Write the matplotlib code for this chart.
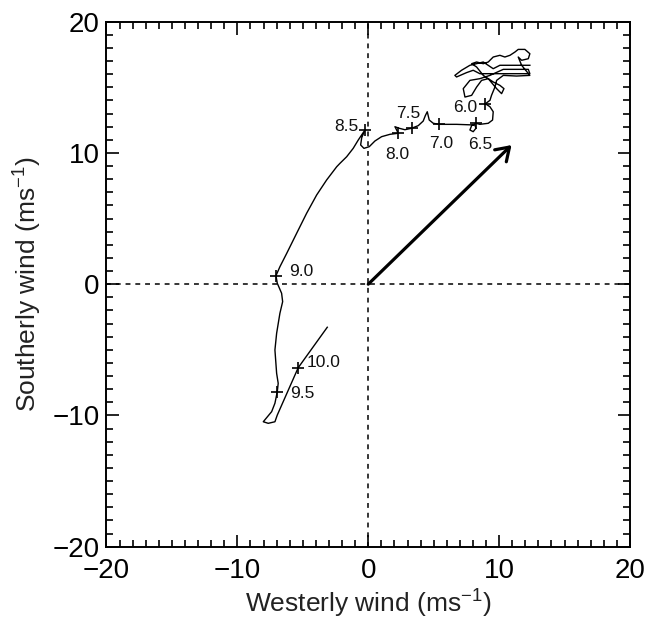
import matplotlib
matplotlib.use("Agg")
import matplotlib.pyplot as plt
from matplotlib.ticker import MultipleLocator

plt.rcParams['font.family'] = ['Liberation Sans', 'DejaVu Sans']
plt.rcParams['mathtext.fontset'] = 'custom'
plt.rcParams['mathtext.rm'] = 'Liberation Sans'
plt.rcParams['mathtext.it'] = 'Liberation Sans'

# Hodograph of wind (westerly u, southerly v), m/s
u_wind = [12.35, 10.06, 9.55, 8.79, 7.77, 7.13, 6.62, 6.75, 7.51, 8.02, 8.53, 9.04,
          12.35, 12.23, 10.32, 9.30, 8.53, 7.77, 7.26, 7.39, 7.90, 8.28, 8.66, 9.17,
          9.81, 10.19, 10.37, 10.06, 9.55, 8.79, 8.28, 7.90, 8.28, 8.79, 9.17, 9.55,
          10.06, 10.44, 10.83, 11.21, 11.46, 11.97, 12.35, 12.23, 11.72, 11.46, 11.72,
          12.35, 11.33, 10.32, 9.81, 9.68, 9.42, 9.30, 8.95,
          9.30, 9.55, 9.50, 9.17, 8.53, 8.23, 7.90, 7.77, 8.02, 8.23, 8.15,
          6.75, 5.42, 4.97, 4.66, 4.51, 4.36, 4.20, 3.82, 3.31, 2.80, 2.37, 2.04, 2.17,
          2.29, 1.66, 1.02, 0.51, 0.08, -0.33, -0.58, -0.50, -0.25,
          -0.76, -1.15, -1.65, -2.16, -2.41, -3.18, -3.94, -4.71, -5.47, -6.23, -6.75,
          -7.05, -6.95, -6.62, -6.54, -6.75, -7.00, -7.13, -7.00, -6.88, -6.95, -7.13,
          -7.38, -8.02, -7.64, -7.13, -6.95, -5.35, -3.13]
v_wind = [16.68, 16.68, 16.42, 16.93, 16.68, 16.30, 15.91, 15.79, 16.12, 16.30, 16.04, 16.04,
          16.04, 16.37, 16.37, 15.91, 15.66, 15.53, 14.90, 14.26, 14.39, 15.02, 15.53, 15.66,
          14.90, 14.52, 14.90, 15.15, 15.41, 15.91, 16.55, 16.80, 16.93, 16.80, 16.93, 17.31,
          17.44, 17.31, 17.44, 17.69, 17.89, 17.89, 17.56, 17.18, 17.06, 17.31, 16.68,
          15.91, 15.86, 15.91, 15.53, 15.02, 14.39, 14.01, 13.75,
          13.52, 13.14, 12.51, 12.26, 12.18, 12.26, 12.08, 11.75, 11.62, 11.88, 12.13,
          12.18, 12.18, 12.26, 12.51, 13.14, 12.84, 12.43, 12.08, 11.88, 11.77, 11.88, 12.00, 11.75,
          11.50, 11.42, 11.24, 10.91, 10.48, 10.35, 10.61, 11.16, 11.75,
          10.99, 10.35, 9.71, 9.21, 8.95, 7.94, 6.80, 5.40, 3.88, 2.35, 1.33,
          0.65, 0.07, -0.69, -1.33, -2.22, -3.74, -5.01, -6.79, -7.55, -8.19, -9.07,
          -9.71, -10.48, -10.60, -10.48, -9.97, -6.36, -3.28]

# Time marks (hours) along the hodograph
mark_labels = ["6.0", "6.5", "7.0", "7.5", "8.0", "8.5", "9.0", "9.5", "10.0"]
mark_u = [8.95, 8.23, 5.42, 3.31, 2.29, -0.25, -7.05, -6.95, -5.35]
mark_v = [13.75, 12.26, 12.18, 11.88, 11.50, 11.75, 0.65, -8.19, -6.36]
# label offsets (points) from each mark
label_dx = [-14.5, 3.0, 1.7, -2.5, -0.7, -13.7, 18.5, 18.3, 18.5]
label_dy = [-2.5, -15.6, -13.7, 10.8, -15.1, 2.4, 2.9, -1.2, 3.6]

# Mean wind vector
mean_u, mean_v = 10.95, 10.6

fig = plt.figure(figsize=(6.47, 6.31), dpi=100)
ax = fig.add_axes([0.1646, 0.1336, 0.8091, 0.8320])

ax.axhline(0, color='black', lw=1.1, ls=(0, (3.2, 3.2)), zorder=1)
ax.axvline(0, color='black', lw=1.1, ls=(0, (3.2, 3.2)), zorder=1)

ax.plot(u_wind, v_wind, color='black', lw=1.0, zorder=2)
ax.plot(mark_u, mark_v, ls='none', marker='+', color='black', ms=9, mew=1.2, zorder=3)
for lab, x, y, dx, dy in zip(mark_labels, mark_u, mark_v, label_dx, label_dy):
    ax.annotate(lab, (x, y), xytext=(dx, dy), textcoords='offset points',
                ha='center', va='center', fontsize=12.5, color='#111111')

ax.annotate('', xy=(mean_u, mean_v), xytext=(0, 0),
            arrowprops=dict(arrowstyle='->,head_length=0.45,head_width=0.3',
                            lw=2.3, color='black', mutation_scale=20,
                            shrinkA=0, shrinkB=0), zorder=4)

ax.set_xlim(-20, 20)
ax.set_ylim(-20, 20)
ax.xaxis.set_major_locator(MultipleLocator(10))
ax.yaxis.set_major_locator(MultipleLocator(10))
ax.xaxis.set_minor_locator(MultipleLocator(1))
ax.yaxis.set_minor_locator(MultipleLocator(1))
ax.tick_params(which='both', direction='in', top=True, right=True, width=1.2, color='black')
ax.tick_params(which='major', length=9, labelsize=20)
ax.tick_params(axis='x', which='major', pad=8)
ax.tick_params(axis='y', which='major', pad=5)
ax.tick_params(which='minor', length=4.8)
for s in ax.spines.values():
    s.set_linewidth(1.4)

ax.set_xlabel('Westerly wind (ms$^{-1}$)', fontsize=19, color='#222222', labelpad=3)
ax.set_ylabel('Southerly wind (ms$^{-1}$)', fontsize=19, color='#222222', labelpad=6)

fig.savefig('out.png', dpi=100)
